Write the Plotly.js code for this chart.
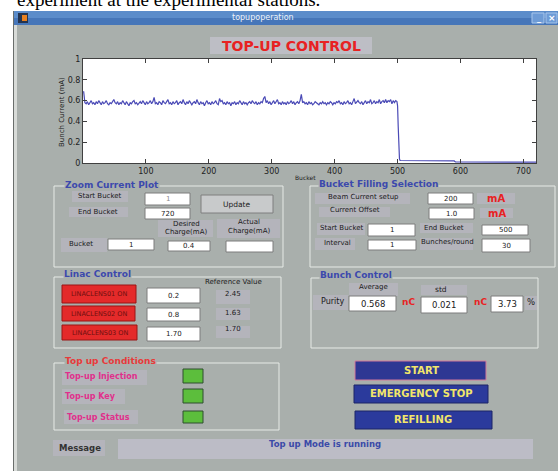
<!DOCTYPE html>
<html><head><meta charset="utf-8">
<script src="https://cdn.plot.ly/plotly-3.0.1.min.js"></script>
<style>html,body{margin:0;padding:0;background:#fff;}#plot{width:558px;height:471px;}</style>
</head><body><div id="plot"></div>
<script>
// ---- data ----
// bunch current (mA), buckets 1,3,5,...,499
const headCurrent = [
0.69,0.58,0.57,0.59,0.56,0.58,0.60,0.57,0.58,0.56,
0.59,0.57,0.60,0.58,0.56,0.59,0.57,0.58,0.60,0.57,
0.56,0.58,0.57,0.59,0.61,0.58,0.57,0.59,0.56,0.58,
0.57,0.60,0.58,0.56,0.59,0.57,0.55,0.58,0.57,0.59,
0.60,0.57,0.58,0.56,0.58,0.59,0.57,0.60,0.58,0.56,
0.59,0.57,0.58,0.60,0.57,0.59,0.63,0.57,0.58,0.56,
0.59,0.58,0.56,0.60,0.58,0.57,0.59,0.61,0.57,0.58,
0.56,0.59,0.57,0.58,0.60,0.56,0.58,0.59,0.57,0.61,
0.58,0.56,0.59,0.57,0.60,0.58,0.56,0.58,0.59,0.57,
0.61,0.58,0.56,0.59,0.57,0.58,0.55,0.58,0.60,0.57,
0.58,0.56,0.59,0.57,0.58,0.60,0.57,0.56,0.62,0.59,
0.60,0.57,0.58,0.56,0.59,0.57,0.58,0.55,0.58,0.57,
0.59,0.56,0.58,0.57,0.60,0.58,0.56,0.59,0.57,0.58,
0.56,0.58,0.59,0.57,0.60,0.58,0.57,0.59,0.56,0.58,
0.57,0.59,0.58,0.62,0.64,0.58,0.60,0.57,0.59,0.56,
0.58,0.60,0.57,0.59,0.61,0.57,0.58,0.56,0.59,0.57,
0.58,0.56,0.59,0.57,0.58,0.60,0.57,0.59,0.56,0.58,
0.59,0.57,0.60,0.66,0.58,0.59,0.57,0.58,0.56,0.59,
0.57,0.58,0.56,0.57,0.59,0.58,0.57,0.56,0.58,0.57,
0.59,0.57,0.58,0.56,0.58,0.57,0.59,0.58,0.56,0.58,
0.57,0.59,0.58,0.60,0.57,0.58,0.56,0.59,0.57,0.58,
0.60,0.57,0.58,0.56,0.59,0.62,0.57,0.59,0.60,0.58,
0.57,0.59,0.56,0.58,0.60,0.57,0.59,0.58,0.61,0.57,
0.58,0.60,0.57,0.59,0.58,0.61,0.57,0.59,0.60,0.58,
0.61,0.58,0.60,0.59,0.61,0.57,0.60,0.58,0.60,0.59
];
const tailBuckets = [500,501,502,503,504,530,560,590,592,640,680,720];
const tailCurrent = [0.55,0.35,0.12,0.04,0.024,0.021,0.020,0.020,0.010,0.010,0.009,0.009];
const xTicks = [100,200,300,400,500,600,700];
const yTicks = [0,0.2,0.4,0.6,0.8,1];
const yTickText = ['0','0.2','0.4','0.6','0.8','1'];

const buckets = headCurrent.map((v,i)=>1+2*i).concat(tailBuckets);
const current = headCurrent.concat(tailCurrent);

// ---- GUI geometry helpers (pixel -> paper) ----
const L=83,R=536,T=59,B=163;
const X=p=>(p-L)/(R-L), Y=p=>(B-p)/(B-T);
const FONT='DejaVu Sans';
const BODY='#a9afac', LAB='#b4b4bb';
const shapes=[], ann=[];
function rect(x0,y0,x1,y1,fill,line,lw){
  shapes.push({type:'rect',xref:'paper',yref:'paper',layer:'below',
    x0:X(x0),x1:X(x1),y0:Y(y1),y1:Y(y0),
    fillcolor:fill||'rgba(0,0,0,0)',
    line:{color:line||'rgba(0,0,0,0)',width:line?(lw||1):0}});
}
function txt(x,y,t,size,color,bold,anchor,extra){
  ann.push(Object.assign({xref:'paper',yref:'paper',x:X(x),y:Y(y),text:bold?'<b>'+t+'</b>':t,
    showarrow:false,xanchor:anchor||'center',yanchor:'middle',
    font:{family:FONT,size:size,color:color||'#202020'}},extra||{}));
}
function input(x0,y0,x1,y1){rect(x0,y0,x1,y1,'#ffffff','#7c7c7c',1);}

// window
rect(14,25,560,472,BODY);
rect(13,11,14,472,'#6a6e6c');
rect(14,25,17,472,'#d8dbd8');
rect(14,11,560,18,'#5b8cca');
rect(14,18,560,25,'#4676b9');
rect(18,13,28,23,'#24344f');
rect(22,15,27,21,'#e8801f');
rect(532,13,544,23,'#6d9bd6','#a8c6ec',1);
rect(546,13,557,23,'#6d9bd6','#a8c6ec',1);
rect(210,37,372,54,'#bdbec5');
rect(83,59,536,163,'#ffffff');

// Zoom Current Plot panel
rect(54,186,283,267,null,'#e6eae6',1);
rect(72,191,128,202,LAB); input(145,193,190,205);
rect(69,207,128,217,LAB); input(145,208,190,219);
rect(201,195,273,213,'#c8cacb','#7e7e7e',1);
rect(158,220,213,237,LAB); rect(217,219,280,238,LAB);
rect(61,238,107,252,LAB);
input(108,239,154,250); input(168,241,210,251); input(226,241,273,252);

// Bucket Filling Selection panel
rect(310,186,555,267,null,'#e6eae6',1);
rect(315,193,410,204,LAB); rect(319,207,390,217,LAB);
rect(317,223,365,235,LAB); rect(420,223,473,233,LAB);
rect(315,238,355,250,LAB); rect(420,238,473,250,LAB);
rect(477,193,515,204,LAB); rect(480,208,513,218,LAB);
input(428,193,473,204); input(429,208,474,219);
input(368,224,415,236); input(482,225,528,235);
input(368,240,416,250); input(482,239,530,252);

// Linac Control panel
rect(54,277,281,348,null,'#e6eae6',1);
rect(62,285,136,303,'#e42a2a','#9a1515',1);
rect(62,306,135,321,'#e42a2a','#9a1515',1);
rect(62,325,137,340,'#e42a2a','#9a1515',1);
input(147,288,200,303); input(147,308,200,321); input(147,327,200,341);
rect(216,290,250,304,LAB); rect(216,308,250,320,LAB); rect(216,326,250,338,LAB);

// Bunch Control panel
rect(311,278,538,348,null,'#e6eae6',1);
rect(349,283,398,296,LAB); rect(313,295,348,310,LAB); rect(421,285,467,295,LAB);
input(349,296,396,311); input(421,297,467,313); input(491,296,523,312);
rect(525,296,537,310,LAB);

// Top up Conditions panel
rect(54,363,279,430,null,'#e6eae6',1);
rect(62,370,147,385,LAB); rect(62,389,125,404,LAB); rect(64,410,138,424,LAB);
rect(183,369,203,383,'#5cbe3c','#2f4f2f',1);
rect(183,389,203,403,'#5cbe3c','#2f4f2f',1);
rect(183,411,203,423,'#5cbe3c','#2f4f2f',1);

// big buttons
rect(355,361,486,380,'#2e3793','#d27a9a',1);
rect(354,385,488,403,'#2b3a9c','#1c2466',1);
rect(355,411,492,429,'#2b3a9c','#1c2466',1);

// message
rect(53,440,105,456,LAB);
rect(118,439,533,459,'#bcbcc6');

// ---- texts ----
ann.push({xref:'paper',yref:'paper',x:X(322),y:Y(12),xanchor:'right',yanchor:'bottom',showarrow:false,
  text:'experiment at the experimental stations.',font:{family:'Liberation Serif',size:19,color:'#000'}});
txt(263,17.5,'topupoperation',8,'#eef3fa');
txt(539,18,'_',8,'#ffffff',true);
txt(551.5,18,'×',9,'#ffffff',true);
txt(291,45.5,'TOP-UP CONTROL',14,'#e82222',true);
txt(62,112,'Bunch Current (mA)',7,'#202020',false,'center',{textangle:-90});
txt(305,177,'Bucket',6,'#202020');

const PT='#3c49ad';
txt(64,185,'Zoom Current Plot',9,PT,true,'left',{bgcolor:BODY,borderpad:0});
txt(100,196,'Start Bucket',7); txt(167.5,199,'1',7,'#8a8a8a');
txt(98,212,'End Bucket',7); txt(167.5,213.5,'720',7);
txt(237,204,'Update',7.5);
txt(186,224,'Desired',7); txt(186,232,'Charge(mA)',7);
txt(249,222,'Actual',7); txt(249,231,'Charge(mA)',7);
txt(81,244,'Bucket',7); txt(131,244.5,'1',7); txt(189,246,'0.4',7);

txt(318,184,'Bucket Filling Selection',9,PT,true,'left',{bgcolor:BODY,borderpad:0});
txt(363,197,'Beam Current setup',7); txt(450.5,198.5,'200',7);
txt(496,198,'mA',10,'#e82222',true);
txt(355,210,'Current Offset',7); txt(451.5,213.5,'1.0',7);
txt(497,213,'mA',10,'#e82222',true);
txt(342,228,'Start Bucket',7); txt(391.5,230,'1',7);
txt(444,228,'End Bucket',7); txt(505,230,'500',7);
txt(337,243,'Interval',7); txt(392,245,'1',7);
txt(447,242,'Bunches/round',7); txt(506,245.5,'30',7);

txt(63,274,'Linac Control',9,PT,true,'left',{bgcolor:BODY,borderpad:0});
txt(233,282,'Reference Value',7);
txt(99,294,'LINACLENS01 ON',6.5,'#6e1010');
txt(98.5,313.5,'LINACLENS02 ON',6.5,'#6e1010');
txt(99.5,332.5,'LINACLENS03 ON',6.5,'#6e1010');
txt(173.5,295.5,'0.2',7); txt(173.5,314.5,'0.8',7); txt(173.5,334,'1.70',7);
txt(233,294,'2.45',7); txt(233,313,'1.63',7); txt(233,329,'1.70',7);

txt(319,275,'Bunch Control',9,PT,true,'left',{bgcolor:BODY,borderpad:0});
txt(373,287,'Average',7); txt(441,289,'std',7.5);
txt(332,301,'Purity',8);
txt(372.5,303.5,'0.568',8.5); txt(444,305,'0.021',8.5); txt(507,304,'3.73',8.5);
txt(408,302,'nC',9,'#e82222',true); txt(480,302,'nC',9,'#e82222',true);
txt(531,302,'%',8.5);

txt(64,361,'Top up Conditions',9,'#e83a3a',true,'left',{bgcolor:BODY,borderpad:0});
txt(63,376,'Top-up Injection',8,'#e0308c',true,'left');
txt(63,396,'Top-up Key',8,'#e0308c',true,'left');
txt(65,417,'Top-up Status',8,'#e0308c',true,'left');

txt(421,370,'START',10,'#f2e66a',true);
txt(421,393,'EMERGENCY STOP',10,'#f2e66a',true);
txt(423,419,'REFILLING',10,'#f2e66a',true);

txt(80,447.5,'Message',8.5,'#333333',true);
txt(325,444,'Top up Mode is running',8.5,'#3a4aa8',true);

const trace = {x:buckets,y:current,type:'scatter',mode:'lines',
  line:{color:'#4a4ab6',width:1.2},hoverinfo:'skip'};

const layout = {
  width:558,height:471,
  margin:{l:L,r:558-R,t:T,b:471-B,pad:0},
  paper_bgcolor:'#ffffff',plot_bgcolor:'#ffffff',
  showlegend:false,
  xaxis:{range:[0,720],tickvals:xTicks,ticks:'inside',ticklen:4,tickcolor:'#404040',
    showline:true,mirror:'ticks',linecolor:'#404040',linewidth:1,
    showgrid:false,zeroline:false,tickfont:{family:FONT,size:8,color:'#222'}},
  yaxis:{range:[0,1],tickvals:yTicks,ticktext:yTickText,ticks:'inside',ticklen:4,tickcolor:'#404040',
    showline:true,mirror:'ticks',linecolor:'#404040',linewidth:1,
    showgrid:false,zeroline:false,tickfont:{family:FONT,size:8,color:'#222'}},
  shapes:shapes,annotations:ann
};
Plotly.newPlot('plot',[trace],layout,{staticPlot:true,displayModeBar:false});
</script></body></html>
